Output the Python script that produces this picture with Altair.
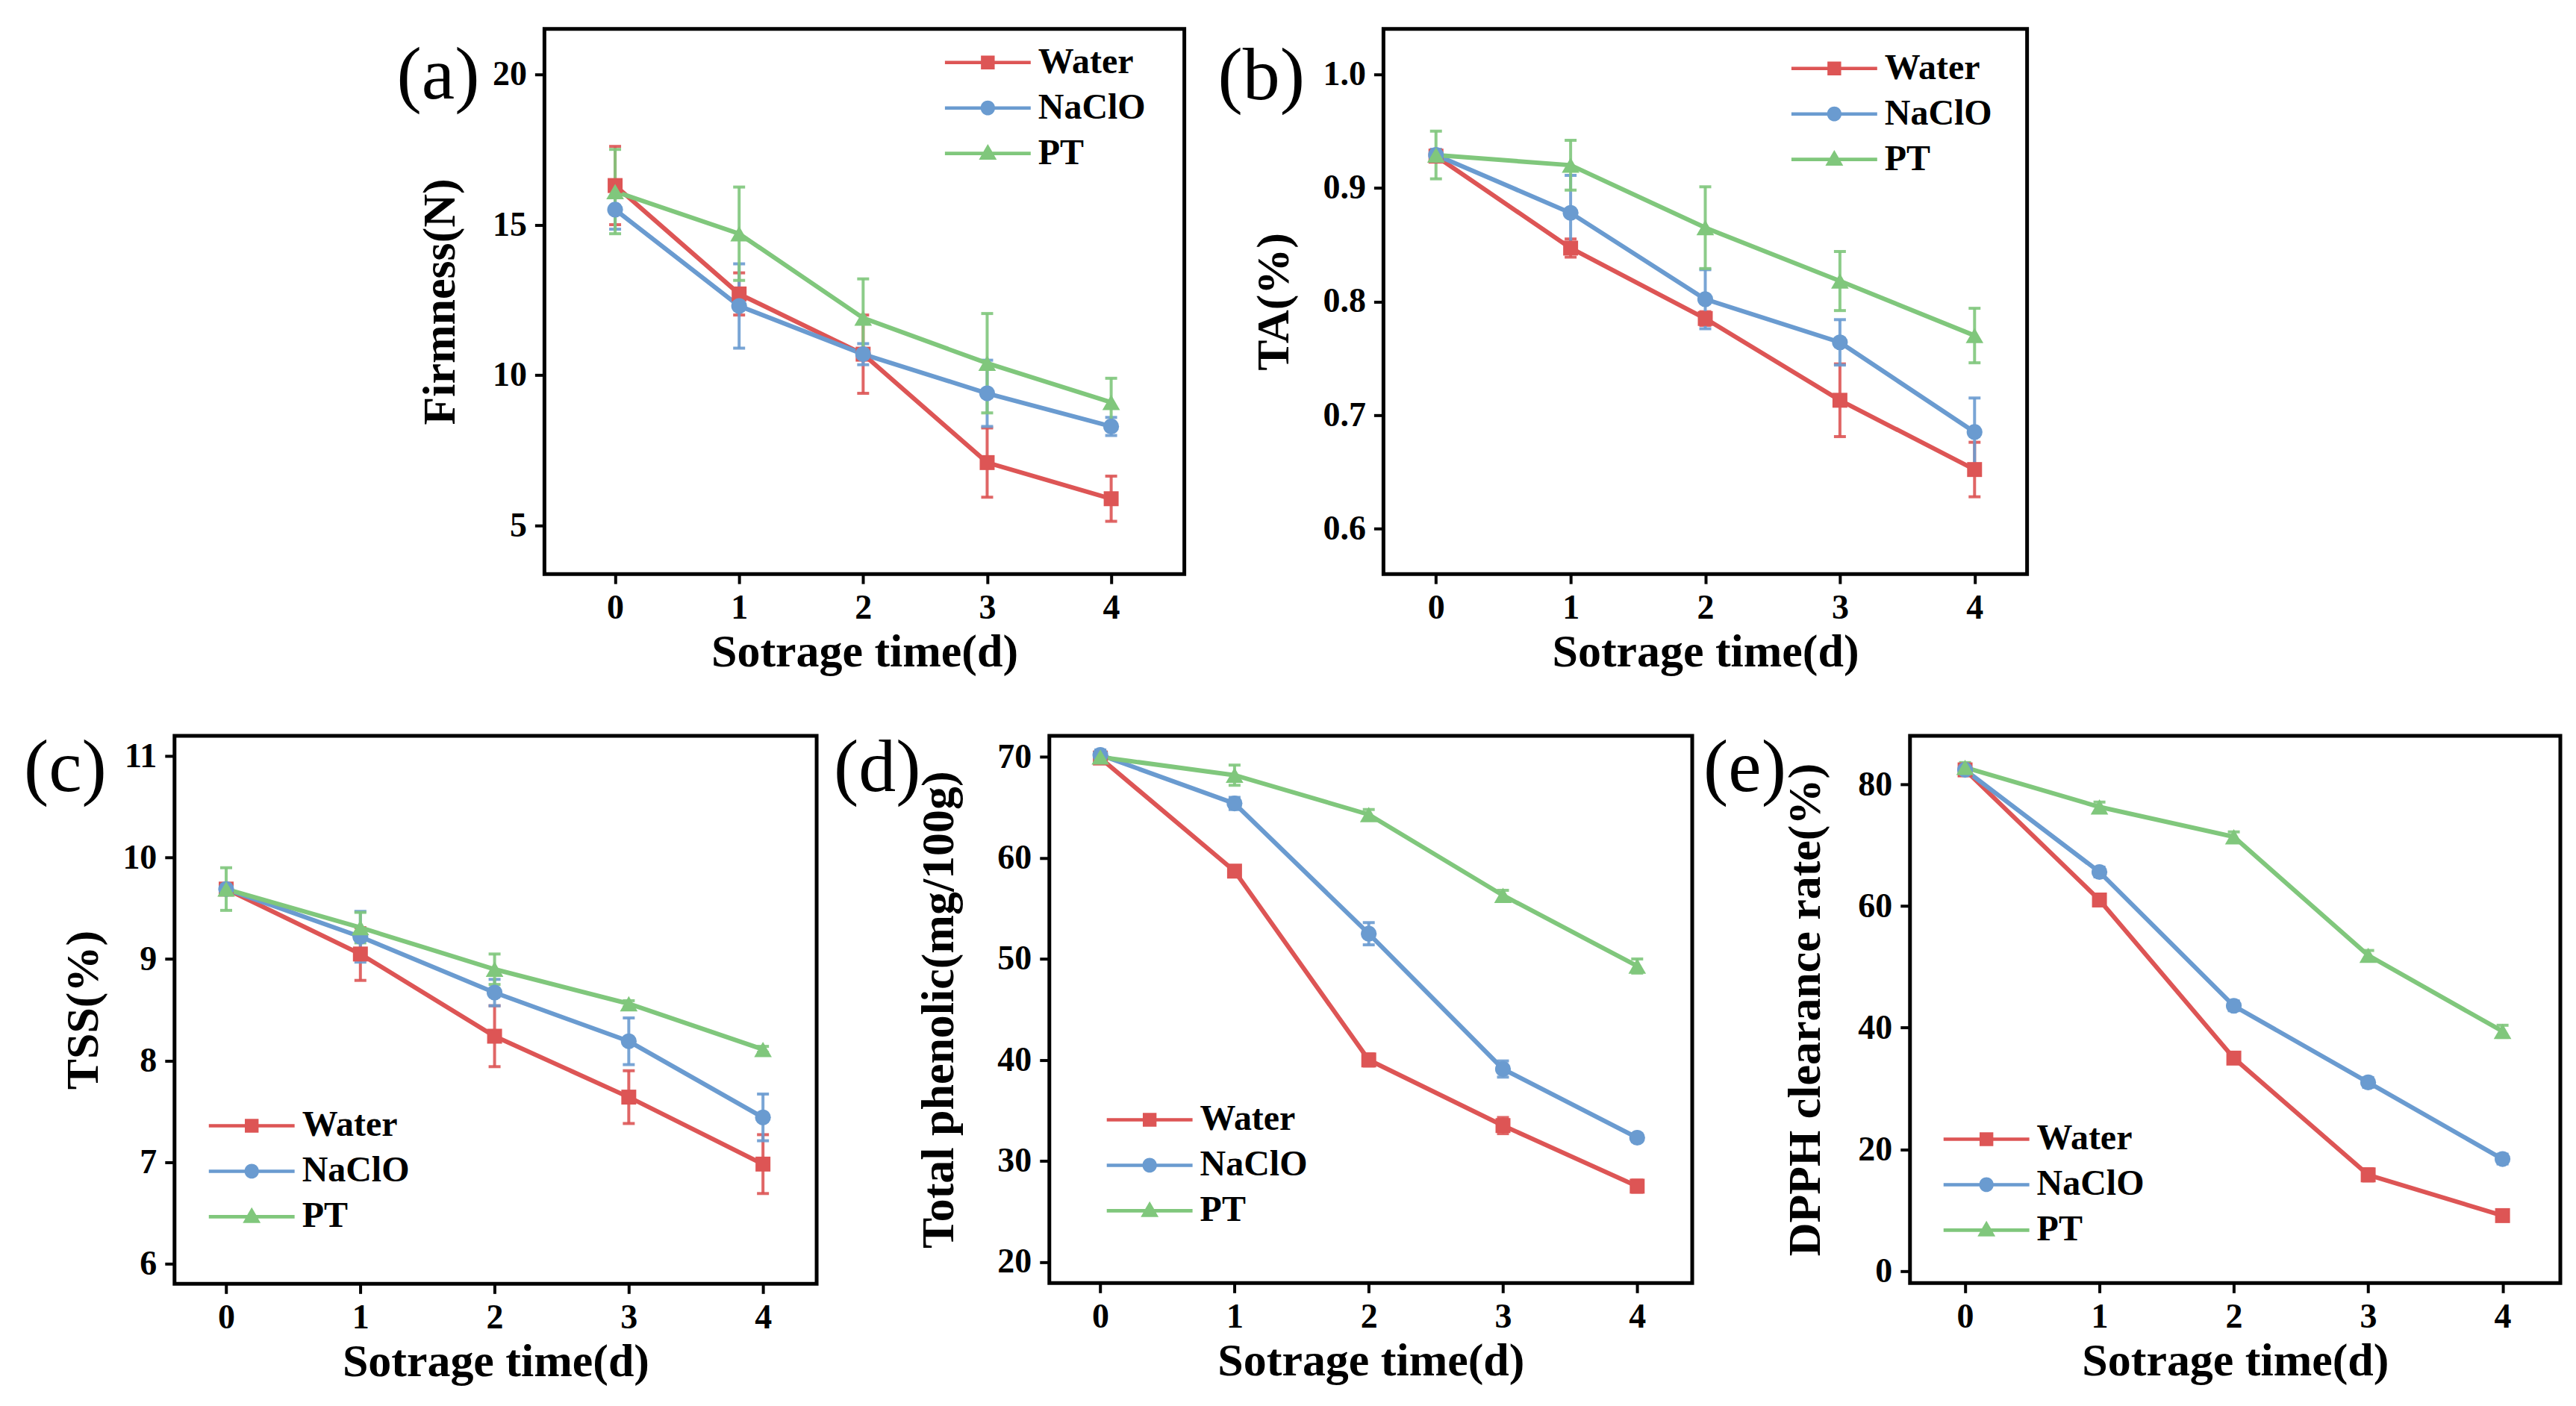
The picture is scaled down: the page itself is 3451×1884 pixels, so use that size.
import altair as alt
import pandas as pd

FONT = "Liberation Serif"

days = [0, 1, 2, 3, 4]
groups = ["Water", "NaClO", "PT"]
colors = ["#DD5555", "#6A9BD0", "#80C77C"]
marker_shapes = ["square", "circle", "triangle-up"]
marker_sizes = [400, 450, 560]

# (a) Firmness (N)
a_water = [16.3, 12.7, 10.7, 7.1, 5.9]
a_water_err = [1.3, 0.7, 1.3, 1.15, 0.75]
a_naclo = [15.5, 12.3, 10.7, 9.4, 8.3]
a_naclo_err = [0.65, 1.4, 0.35, 1.1, 0.3]
a_pt = [16.1, 14.7, 11.9, 10.4, 9.1]
a_pt_err = [1.4, 1.55, 1.3, 1.65, 0.8]

# (b) TA (%)
b_water = [0.928, 0.847, 0.785, 0.713, 0.652]
b_water_err = [0.005, 0.008, 0.006, 0.032, 0.024]
b_naclo = [0.929, 0.878, 0.802, 0.764, 0.685]
b_naclo_err = [0.005, 0.033, 0.026, 0.020, 0.030]
b_pt = [0.929, 0.920, 0.865, 0.818, 0.770]
b_pt_err = [0.021, 0.022, 0.036, 0.026, 0.024]

# (c) TSS (%)
c_water = [9.69, 9.05, 8.24, 7.64, 6.98]
c_water_err = [0.05, 0.26, 0.30, 0.26, 0.29]
c_naclo = [9.69, 9.22, 8.67, 8.19, 7.44]
c_naclo_err = [0.05, 0.25, 0.13, 0.23, 0.23]
c_pt = [9.69, 9.31, 8.90, 8.56, 8.11]
c_pt_err = [0.21, 0.15, 0.15, 0.03, 0.03]

# (d) Total phenolic (mg/100g)
d_water = [69.9, 58.7, 40.0, 33.5, 27.5]
d_water_err = [0.4, 0.4, 0.6, 0.8, 0.6]
d_naclo = [70.2, 65.4, 52.5, 39.1, 32.3]
d_naclo_err = [0.5, 0.6, 1.1, 0.8, 0.4]
d_pt = [70.0, 68.2, 64.3, 56.3, 49.3]
d_pt_err = [0.5, 1.0, 0.5, 0.5, 0.7]

# (e) DPPH clearance rate (%)
e_water = [82.4, 61.0, 35.0, 15.8, 9.1]
e_water_err = [0.8, 0.8, 0.8, 1.0, 0.6]
e_naclo = [82.4, 65.6, 43.6, 31.0, 18.4]
e_naclo_err = [0.6, 0.8, 0.8, 0.8, 0.8]
e_pt = [82.8, 76.3, 71.4, 51.9, 39.4]
e_pt_err = [0.8, 0.8, 0.8, 0.8, 1.0]

# legend symbols: line segment with marker in the middle
legend_paths = [
    "M-2.5,-0.1H-0.4V-0.4H0.4V-0.1H2.5V0.1H0.4V0.4H-0.4V0.1H-2.5Z",
    "M-2.5,-0.1H-0.41A0.42,0.42 0 0,1 0.41,-0.1H2.5V0.1H0.41A0.42,0.42 0 0,1 -0.41,0.1H-2.5Z",
    "M-2.5,-0.1H-0.26L0,-0.55L0.26,-0.1H2.5V0.1H0.37L0.52,0.36H-0.52L-0.37,0.1H-2.5Z",
]


def make_panel(label, ytitle, series, errs, ydom, yvals, yfmt, xdom, w, h,
               leg_xy, lab_xy, ytpad):
    rows = []
    for g, m, e in zip(groups, series, errs):
        for d, mv, ev in zip(days, m, e):
            rows.append(dict(day=d, group=g, mean=mv, lo=mv - ev, hi=mv + ev))
    df = pd.DataFrame(rows)
    xs = alt.Scale(domain=xdom, nice=False, zero=False)
    ys = alt.Scale(domain=ydom, nice=False, zero=False)
    xax = alt.Axis(values=days, format="d", title="Sotrage time(d)",
                   labelPadding=10, titlePadding=6)
    yax = alt.Axis(values=yvals, format=yfmt, title=ytitle,
                   labelPadding=11, titlePadding=ytpad)
    X = alt.X("day:Q", scale=xs, axis=xax)
    base = alt.Chart(df)
    layers = []
    for g, c in zip(groups, colors):
        sub = base.transform_filter(alt.datum.group == g)
        layers.append(sub.mark_rule(color=c, strokeWidth=4, opacity=0.9).encode(
            x=X, y=alt.Y("lo:Q", scale=ys, axis=yax), y2="hi:Q"))
        for f in ["lo", "hi"]:
            layers.append(sub.mark_tick(color=c, orient="horizontal", size=16,
                                        thickness=4, opacity=0.9).encode(
                x=X, y=alt.Y(f + ":Q", scale=ys, axis=yax)))
    for g, c in zip(groups, colors):
        sub = base.transform_filter(alt.datum.group == g)
        layers.append(sub.mark_line(color=c, strokeWidth=6).encode(
            x=X, y=alt.Y("mean:Q", scale=ys, axis=yax)))
    for g, c, s, sz in zip(groups, colors, marker_shapes, marker_sizes):
        sub = base.transform_filter(alt.datum.group == g)
        layers.append(sub.mark_point(color=c, filled=True, opacity=1, shape=s, size=sz).encode(
            x=X, y=alt.Y("mean:Q", scale=ys, axis=yax)))
    leg = alt.Legend(orient="none", legendX=leg_xy[0], legendY=leg_xy[1], title=None,
                     labelFont=FONT, labelFontSize=48, labelFontWeight="bold",
                     labelColor="black", symbolSize=2116, labelOffset=43.5,
                     rowPadding=13, padding=0, symbolStrokeWidth=0, labelLimit=0)
    layers.append(base.transform_filter("datum.day < -100").mark_point(filled=True, opacity=1).encode(
        x=X, y=alt.Y("mean:Q", scale=ys, axis=yax),
        color=alt.Color("group:N", scale=alt.Scale(domain=groups, range=colors), legend=leg),
        shape=alt.Shape("group:N", scale=alt.Scale(domain=groups, range=legend_paths), legend=leg)))
    layers.append(alt.Chart(pd.DataFrame({"t": [label]})).mark_text(
        align="left", baseline="alphabetic", font=FONT, fontSize=100,
        fontWeight="normal", color="black").encode(
        text="t:N", x=alt.value(lab_xy[0]), y=alt.value(lab_xy[1])))
    return alt.layer(*layers).properties(width=w, height=h)


pa = make_panel("(a)", "Firmness(N)",
                [a_water, a_naclo, a_pt], [a_water_err, a_naclo_err, a_pt_err],
                [3.4, 21.5], [5, 10, 15, 20], "d", [-0.57, 4.59], 858, 731,
                (570.5, 21), (-198, 93), 38)
pb = make_panel("(b)", "TA(%)",
                [b_water, b_naclo, b_pt], [b_water_err, b_naclo_err, b_pt_err],
                [0.56, 1.04], [0.6, 0.7, 0.8, 0.9, 1.0], ".1f", [-0.39, 4.39], 863, 731,
                (580.5, 29), (-222, 94), 33)
pc = make_panel("(c)", "TSS(%)",
                [c_water, c_naclo, c_pt], [c_water_err, c_naclo_err, c_pt_err],
                [5.8, 11.2], [6, 7, 8, 9, 10, 11], "d", [-0.385, 4.4], 861, 735,
                (79.5, 499), (-202, 74), 20)
pd_ = make_panel("(d)", "Total phenolic(mg/100g)",
                 [d_water, d_naclo, d_pt], [d_water_err, d_naclo_err, d_pt_err],
                 [17.9, 72.1], [20, 30, 40, 50, 60, 70], "d", [-0.38, 4.41], 862, 734,
                 (110.5, 491), (-289, 74), 46)
pe = make_panel("(e)", "DPPH clearance rate(%)",
                [e_water, e_naclo, e_pt], [e_water_err, e_naclo_err, e_pt_err],
                [-2, 88], [0, 20, 40, 60, 80], "d", [-0.41, 4.43], 872, 734,
                (78.5, 517), (-277, 74), 38)

spacer = alt.Chart(pd.DataFrame({"v": [0]})).mark_point(opacity=0).encode(
    x=alt.X("v:Q", axis=None), y=alt.Y("v:Q", axis=None)
).properties(width=496, height=731, view=alt.ViewBackground(strokeWidth=0, stroke="white"))


def indep(c):
    return c.resolve_scale(color="independent", shape="independent")


top_pair = indep(alt.hconcat(pa, pb, spacing=267, bounds="flush"))
top = indep(alt.hconcat(spacer, top_pair, spacing=0, bounds="flush"))
bot_pair = indep(alt.hconcat(pd_, pe, spacing=292, bounds="flush"))
bottom = indep(alt.hconcat(pc, bot_pair, spacing=312, bounds="flush"))
chart = indep(alt.vconcat(top, bottom, spacing=70))

chart = chart.properties(
    padding={"left": 21, "top": 27, "right": 10, "bottom": 10}
).configure_view(
    stroke="black", strokeWidth=5
).configure_axis(
    labelFont=FONT, labelFontWeight="bold", labelFontSize=46, labelColor="black",
    titleFont=FONT, titleFontWeight="bold", titleFontSize=62, titleColor="black",
    tickSize=13, tickWidth=4, tickColor="black", domain=False, grid=False
)

chart.save("out.html", embed_options={"renderer": "svg", "actions": False})
